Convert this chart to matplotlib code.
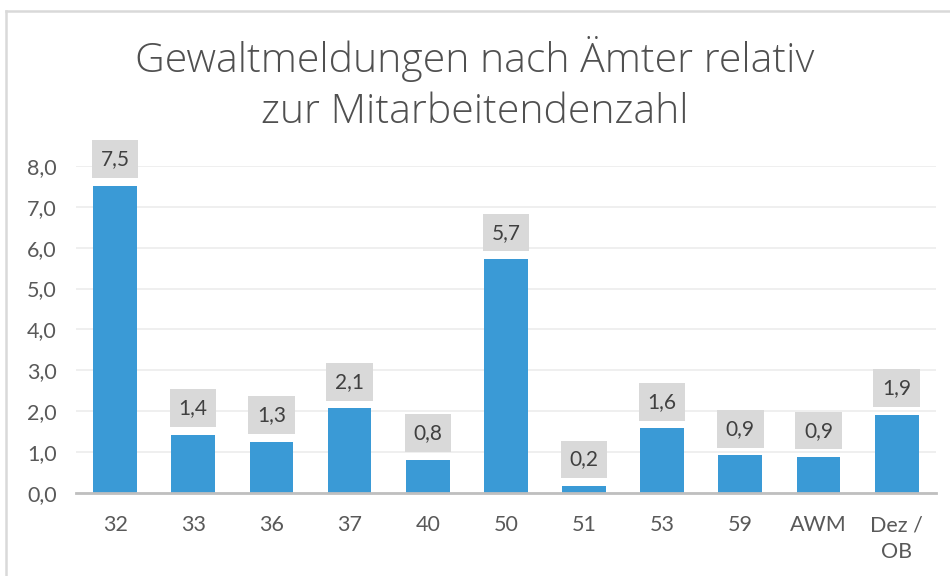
import matplotlib
matplotlib.use("Agg")
import matplotlib.pyplot as plt
from matplotlib.lines import Line2D

categories = ["32", "33", "36", "37", "40", "50", "51", "53", "59", "AWM", "Dez /\nOB"]
values = [7.52, 1.43, 1.26, 2.07, 0.82, 5.72, 0.18, 1.58, 0.92, 0.88, 1.92]
yticks = [0, 1, 2, 3, 4, 5, 6, 7, 8]
title = "Gewaltmeldungen nach Ämter relativ\nzur Mitarbeitendenzahl"

plt.rcParams['font.family'] = ['Lato', 'DejaVu Sans']

fig = plt.figure(figsize=(9.5, 5.76), dpi=100)
ax = fig.add_axes([0.08, 0.144, 0.905, 0.568])

x = list(range(len(categories)))
ax.bar(x, values, width=0.56, color="#3A9AD6", zorder=3)

ax.set_xlim(-0.5, len(categories) - 0.5)
ax.set_ylim(0, 8)
ax.set_yticks(yticks)
ax.set_yticklabels([f"{v:.1f}".replace(".", ",") for v in yticks])
ax.set_xticks(x)
ax.set_xticklabels(categories, linespacing=1.45)
ax.tick_params(axis="both", length=0, labelsize=15.5, colors="#595959")
ax.tick_params(axis="x", pad=16)
ax.tick_params(axis="y", pad=14)

ax.grid(axis="y", color="#ececec", linewidth=1.2, zorder=0)
ax.set_axisbelow(True)
for s in ["top", "right", "left"]:
    ax.spines[s].set_visible(False)
ax.spines["bottom"].set_color("#bfbfbf")
ax.spines["bottom"].set_linewidth(2)
ax.spines["bottom"].set_zorder(4)

for xi, v in zip(x, values):
    ax.annotate(f"{v:.1f}".replace(".", ","), xy=(xi, v), xytext=(0, 19),
                textcoords="offset points", ha="center", va="center",
                fontsize=15, color="#404040", annotation_clip=False,
                bbox=dict(boxstyle="square,pad=0.42", fc="#d9d9d9", ec="none"))

fig.text(0.5, 0.853, title, ha="center", va="center", fontsize=29.5,
         family=["Open Sans", "DejaVu Sans"], fontweight="light",
         color="#505050", linespacing=1.34)

# chart border (top and left visible)
fig.add_artist(Line2D([0.006, 1.0], [0.981, 0.981], transform=fig.transFigure,
                      color="#d9d9d9", linewidth=1.8))
fig.add_artist(Line2D([0.006, 0.006], [0.0, 0.981], transform=fig.transFigure,
                      color="#d9d9d9", linewidth=1.8))

fig.savefig("out.png", dpi=100)
